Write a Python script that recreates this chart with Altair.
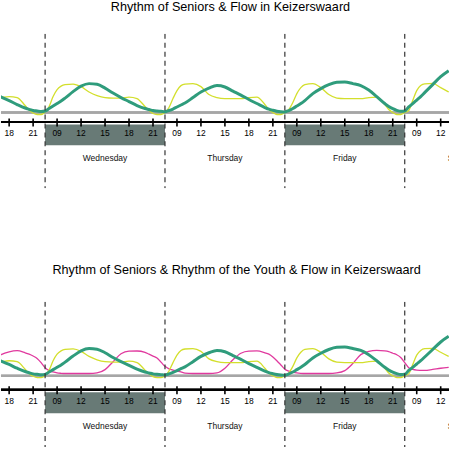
import altair as alt
import pandas as pd

# Each day is shown from 07:30 to 22:30; nights are cut out of the time axis.
DAYS = ["Tuesday", "Wednesday", "Thursday", "Friday", "Saturday"]
SHADED = ["Wednesday", "Friday"]
DAY_START = 7.5
SPAN = 15.0
HOURS = [7.5, 8, 8.5, 9, 9.5, 10, 11, 12, 13, 14, 15, 16, 17, 18, 19, 20, 20.5, 21, 21.5, 22]
TICK_HOURS = [9, 12, 15, 18, 21]

_ = None
# Rhythm of Seniors (relative activity, one value per entry of HOURS)
seniors = {
    "Tuesday":   [_] * 11 + [14, 15, 16, 15, 7, 2.5, -0.5, -2, -2],
    "Wednesday": [0.5, 6, 16, 23, 26.5, 28, 28.6, 26, 20.6, 17, 15, 14.5, 14.5, 15.5, 14, 6, 2, -1, -2, -2],
    "Thursday":  [0, 5, 14, 22, 27, 28.5, 29, 26, 18, 15, 14, 14, 14, 15, 15.5, 8, 3, 0, -2, -2],
    "Friday":    [0, 3, 10, 19, 25, 28, 29, 25, 18, 14.5, 14, 14, 14, 15, 15.5, 8, 3, 0, -2, -2],
    "Saturday":  [0, 2, 12, 22, 27, 28.8, 29.2, 25, 20.6] + [_] * 11,
}
# Rhythm of the Youth
youth = {
    "Tuesday":   [_] * 11 + [17, 22.5, 25.5, 26.7, 24.5, 23, 21, 18.5, 14],
    "Wednesday": [8.5, 5.5, 4, 3, 2.6, 2.4, 2.4, 2.4, 2.4, 3, 6.5, 15, 23.5, 26.3, 26.4, 25, 23, 21, 19, 14.5],
    "Thursday":  [10, 7.4, 6, 5, 4, 2.8, 2.4, 2.4, 2.4, 3, 8, 17, 24, 26.3, 26.5, 24.5, 23, 20, 16, 11.5],
    "Friday":    [7, 5, 3.8, 3, 2.6, 2.4, 2.4, 2.4, 2.4, 3, 5.5, 13, 22.5, 26, 27, 26.5, 25.7, 24, 22.4, 19.5],
    "Saturday":  [14, 8.5, 6.7, 6, 5.8, 5.7, 6.8, 8, 9] + [_] * 11,
}
# Flow in Keizerswaard
flow = {
    "Tuesday":   [_] * 11 + [19, 15.6, 12, 8, 4.5, 3.2, 2, 1.5, 1],
    "Wednesday": [1.5, 4, 6.5, 9, 11.5, 14.5, 21, 26.5, 29, 28.3, 24.5, 19.5, 15, 11, 7, 4, 3, 2, 1.5, 1.2],
    "Thursday":  [0.8, 2, 3.5, 5.5, 7.5, 9.5, 15, 20.6, 24.5, 27, 25.6, 21.5, 17.5, 13, 9, 5, 3.3, 2.2, 1.3, 0.8],
    "Friday":    [0.6, 2, 4, 6.5, 9, 12, 19, 24, 28, 30.3, 30.6, 29, 27, 22.5, 16, 9, 6, 3.8, 2.2, 1.2],
    "Saturday":  [1.5, 5.6, 9, 12.5, 16, 20, 28, 36, 42] + [_] * 11,
}

SENIOR_COLOR = "#d3df2c"
YOUTH_COLOR = "#e0399e"
FLOW_COLOR = "#2f9c7c"
BAND_COLOR = "#687a76"

W = 450
X_MIN, X_MAX = 9.48, 65.54
Y_MIN, Y_MAX = -76.0, 79.0
FONT = "Liberation Sans"


def pos(day_idx, hour):
    return day_idx * SPAN + (hour - DAY_START)


def series_frame(table):
    rows = []
    for d, day in enumerate(DAYS):
        for h, v in zip(HOURS, table[day]):
            if v is not None:
                rows.append({"t": pos(d, h), "value": v})
    return pd.DataFrame(rows)


days_df = pd.DataFrame({
    "day": DAYS,
    "start": [pos(d, DAY_START) for d in range(len(DAYS))],
    "end": [pos(d, DAY_START + SPAN) for d in range(len(DAYS))],
    "mid": [pos(d, DAY_START + SPAN / 2) for d in range(len(DAYS))],
    "shade": [day in SHADED for day in DAYS],
})
bounds_df = pd.DataFrame({"t": [pos(d, DAY_START) for d in range(1, len(DAYS))]})
ticks_df = pd.DataFrame([
    {"t": pos(d, h), "label": f"{h:02d}"}
    for d in range(len(DAYS)) for h in TICK_HOURS
])
# only labels that reach into the shown time range
tick_labels_df = ticks_df[(ticks_df.t > X_MIN + 0.4) & (ticks_df.t < X_MAX - 0.4)]
day_labels_df = days_df[(days_df.mid > X_MIN) & (days_df.mid < X_MAX + 3)]

xs = alt.Scale(domain=[X_MIN, X_MAX], nice=False, zero=False)
ys = alt.Scale(domain=[Y_MIN, Y_MAX], nice=False, zero=False)


def panel(title, series, height, title_offset, title_dx):
    band = alt.Chart(days_df).transform_filter("datum.shade").mark_rect(
        color=BAND_COLOR, clip=True
    ).encode(
        x=alt.X("start:Q", scale=xs, axis=None), x2="end:Q",
        y=alt.value(91), y2=alt.value(112),
    )
    dashed = alt.Chart(bounds_df).mark_rule(
        color="#333333", strokeWidth=1.2, strokeDash=[5, 4], clip=True
    ).encode(x=alt.X("t:Q", scale=xs, axis=None), y=alt.value(0), y2=alt.value(height))
    zero = alt.Chart(bounds_df).mark_rule(color="#a6a6a6", strokeWidth=2).encode(
        y=alt.Y(datum=0, type="quantitative", scale=ys, axis=None),
        x=alt.value(0), x2=alt.value(W),
    )
    axis_line = alt.Chart(bounds_df).mark_rule(color="black", strokeWidth=2).encode(
        x=alt.value(0), x2=alt.value(W), y=alt.value(88.5)
    )
    ticks = alt.Chart(ticks_df).mark_rule(color="black", strokeWidth=1.6, clip=True).encode(
        x=alt.X("t:Q", scale=xs, axis=None), y=alt.value(85), y2=alt.value(93)
    )
    tick_labels = alt.Chart(tick_labels_df).mark_text(
        font=FONT, fontSize=8.5, color="black", baseline="middle", clip=True
    ).encode(x=alt.X("t:Q", scale=xs, axis=None), y=alt.value(100), text="label:N")
    day_labels = alt.Chart(day_labels_df).mark_text(
        font=FONT, fontSize=8.5, color="#111111", baseline="middle", clip=True
    ).encode(x=alt.X("mid:Q", scale=xs, axis=None), y=alt.value(125), text="day:N")

    lines = []
    for table, color, width in series:
        lines.append(
            alt.Chart(series_frame(table)).mark_line(
                color=color, strokeWidth=width, interpolate="monotone", clip=True
            ).encode(
                x=alt.X("t:Q", scale=xs, axis=None),
                y=alt.Y("value:Q", scale=ys, axis=None),
            )
        )

    return alt.layer(
        band, zero, *lines, dashed, axis_line, ticks, tick_labels, day_labels
    ).properties(
        width=W, height=height,
        title=alt.TitleParams(
            title, font=FONT, fontSize=12.7, fontWeight="normal", color="black",
            anchor="middle", offset=title_offset, dx=title_dx,
        ),
    )


top = panel(
    "Rhythm of Seniors & Flow in Keizerswaard",
    [(seniors, SENIOR_COLOR, 1.3), (flow, FLOW_COLOR, 3)],
    155, 20, 5.5,
)
bottom = panel(
    "Rhythm of Seniors & Rhythm of the Youth & Flow in Keizerswaard",
    [(youth, YOUTH_COLOR, 1.3), (seniors, SENIOR_COLOR, 1.3), (flow, FLOW_COLOR, 3)],
    146, 25, 11.7,
)

chart = alt.vconcat(top, bottom, spacing=76).properties(
    padding=0, background="white"
).configure_view(stroke=None)

chart.save("out.html", embed_options={"renderer": "svg", "actions": False})
